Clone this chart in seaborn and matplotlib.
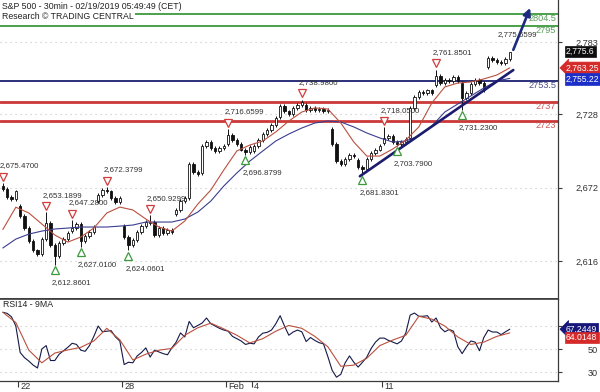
import numpy as np
import matplotlib
matplotlib.use("Agg")
import matplotlib.pyplot as plt
import matplotlib.transforms as mtransforms
import seaborn as sns

BARS_PER_DAY = 6

# trading sessions on the chart (Jan 18 only partly visible)
sessions = ["Jan 18", "Jan 22", "Jan 23", "Jan 24", "Jan 25", "Jan 28", "Jan 29",
            "Jan 30", "Jan 31", "Feb 1", "Feb 4", "Feb 5", "Feb 6", "Feb 7",
            "Feb 8", "Feb 11", "Feb 12", "Feb 13", "Feb 14", "Feb 15"]
session_open = [2673, 2658, 2633, 2639, 2662, 2643, 2645, 2652, 2683, 2705,
                2700, 2726, 2735, 2717, 2693, 2706, 2710, 2750, 2752, 2764]
session_close = [
    [2671, 2665, 2663, 2669],
    [2650, 2641, 2631, 2624, 2621, 2633],
    [2645, 2628, 2620, 2630, 2633, 2637],
    [2641, 2644, 2631, 2635, 2638, 2642],
    [2666, 2670, 2669, 2664, 2661, 2664],
    [2634, 2628, 2632, 2638, 2643, 2646],
    [2646, 2636, 2641, 2637, 2640, 2638],
    [2655, 2662, 2664, 2690, 2684, 2682],
    [2704, 2707, 2702, 2700, 2702, 2704],
    [2712, 2708, 2705, 2701, 2699, 2703],
    [2704, 2708, 2713, 2716, 2720, 2725],
    [2734, 2730, 2728, 2733, 2735, 2737],
    [2731, 2733, 2731, 2732, 2730, 2731],
    [2705, 2692, 2690, 2694, 2697, 2696],
    [2688, 2686, 2694, 2698, 2701, 2704],
    [2710, 2711, 2707, 2705, 2707, 2709],
    [2733, 2741, 2745, 2744, 2746, 2744],
    [2757, 2752, 2754, 2753, 2756, 2753],
    [2740, 2744, 2751, 2754, 2752, 2746],
    [2771, 2769, 2768, 2767, 2770, 2775.6],
]
WICK = 1.5

# swing highs / lows marked on the chart (bar index, value)
swing_bar = [0, 10, 12, 16, 18, 24, 29, 34, 52, 56, 69, 83, 88, 91, 100, 106, 117]
swing_value = [2675.47, 2653.1899, 2612.8601, 2647.28, 2627.01, 2672.3799, 2624.0601,
               2650.9299, 2716.6599, 2696.8799, 2738.98, 2681.8301, 2718.05, 2703.79,
               2761.8501, 2731.23, 2775.6599]
swing_kind = ["high", "high", "low", "high", "low", "high", "low", "high", "high", "low",
              "high", "low", "high", "low", "high", "low", "high"]
swing_marked = [True] * 16 + [False]

# moving averages, read every 3 bars
ma_fast = [2640, 2657, 2652.6, 2644.2, 2635.8, 2630.4, 2634.3, 2641.1, 2652.6, 2657.1,
           2654.9, 2648.0, 2641.9, 2638.8, 2646.5, 2659.4, 2670.1, 2685.4, 2699.9, 2704.4,
           2707.5, 2714.4, 2722.7, 2729.6, 2732.7, 2731.9, 2721.2, 2706.7, 2696.0, 2696.0,
           2701.4, 2708.2, 2718.2, 2736.5, 2748.7, 2751.7, 2752.5, 2754.8, 2757.8, 2763.25]
ma_slow = [2625.9, 2632.7, 2636.5, 2638.8, 2640.4, 2641.1, 2641.9, 2641.9, 2641.9, 2642.6,
           2643.4, 2645.7, 2645.7, 2645.7, 2648.0, 2653.3, 2661.7, 2673.2, 2683.1, 2692.2,
           2699.9, 2707.5, 2712.8, 2717.4, 2721.2, 2722.7, 2722.0, 2718.2, 2713.6, 2709.8,
           2706.7, 2707.5, 2711.3, 2718.9, 2729.6, 2735.7, 2741.8, 2747.9, 2753.3, 2755.22]

# RSI14 per bar and its 9MA every 3 bars
rsi = [82, 81, 78, 70, 47, 42.5, 39.5, 36, 33.5, 50,
       53, 40, 40, 45.5, 48.5, 51.5, 55, 54, 49, 48,
       53, 61, 70, 65, 65.5, 66, 60.5, 57, 36.5, 38.5,
       38, 44, 47, 51, 43, 49, 47.5, 46, 45, 51,
       56, 64, 60.5, 74, 68.5, 70.5, 72.6, 77, 72, 70,
       68, 66.5, 65.5, 61, 59, 57, 54, 55, 54.5, 60.5,
       63.8, 64.5, 66.5, 72, 79, 70, 62, 64.8, 66.5, 65,
       56.5, 60, 57.5, 55.5, 54.5, 43.5, 31.5, 25.5, 28, 38,
       44, 38.5, 34.3, 38.5, 43, 50.5, 56, 59.5, 59.5, 57.5,
       56, 54.5, 57, 64, 79.5, 81.3, 78.5, 78.5, 79, 73.5,
       77, 68.5, 65, 67, 65.5, 52, 46, 52, 57, 56,
       48.5, 60, 66.5, 64.8, 64.8, 62.5, 65, 67.2449]
rsi_ma = [82, 73, 49, 38, 46.5, 49.2, 51.5, 57, 68, 58,
          40.5, 45.5, 49, 50.5, 62, 68.5, 72.5, 67.5, 62, 55.3,
          59, 65.5, 70.5, 68, 61, 52, 35, 36, 42, 53,
          57.8, 62, 78.5, 76, 70, 60.5, 54, 56, 61, 64.0148]

# analyst levels
levels = [2804.5, 2795, 2753.5, 2737, 2723]
level_text = ["2804.5", "2795", "2753.5", "2737", "2723"]
level_kind = ["target", "target", "pivot", "support", "support"]

# trend line from the Feb 8 low and projection arrow (day index, price)
trend_start = (13.15, 2680.6)
trend_end = (19.05, 2761.6)
arrow_start = (19.05, 2777)
arrow_end = (19.7, 2809)

price_ticks = [2616, 2672, 2728, 2783]
price_tick_labels = ["2,616", "2,672", "2,728", "2,783"]
rsi_ticks = [30, 50, 70]
rsi_tick_labels = ["30", "50", ""]  # 70 sits behind the RSI value box
date_ticks = [0, 4, 8, 9, 14]
date_labels = ["22", "28", "Feb", "4", "11"]

title_lines = ["S&P 500 - 30min - 02/19/2019 05:49:49 (CET)", "Research \u00a9 TRADING CENTRAL"]

# ---------------------------------------------------------------------
sns.set_theme(style="white")
plt.rcParams["font.family"] = ["Liberation Sans", "DejaVu Sans"]

opens, closes = [], []
for o, cl in zip(session_open, session_close):
    opens += [o] + cl[:-1]
    closes += cl
opens = np.array(opens, dtype=float)
closes = np.array(closes, dtype=float)
highs = np.maximum(opens, closes) + WICK
lows = np.minimum(opens, closes) - WICK
for b, v, k in zip(swing_bar, swing_value, swing_kind):
    if k == "high":
        highs[b] = v
    else:
        lows[b] = v

bar_x = (np.arange(len(closes)) - len(session_close[0]) + 0.5) / BARS_PER_DAY
ma_x = bar_x[::3]

fig = plt.figure(figsize=(6, 3.92), dpi=100, facecolor="white")
ax = fig.add_axes([0, 0.2372, 0.93, 0.7628])
ax_rsi = fig.add_axes([0, 0.0281, 0.93, 0.2091])
xlim = (-0.692, 20.77)


def shifted(axis, dx_pt, dy_pt):
    return axis.transData + mtransforms.ScaledTranslation(dx_pt / 72, dy_pt / 72, fig.dpi_scale_trans)


# grid
for t in price_ticks:
    ax.axhline(t, color="#c4c4c4", ls=(0, (1, 3.5)), lw=0.8, zorder=1)
for t in rsi_ticks:
    ax_rsi.axhline(t, color="#c4c4c4", ls=(0, (1, 3.5)), lw=0.8, zorder=1)

# levels
level_colors = {"target": "#3d9a3d", "pivot": "#2c2f7c", "support": "#cc3838"}
level_label_colors = {"target": "#5a9e5a", "pivot": "#4d4f86", "support": "#c95555"}
level_widths = {"target": 1.3, "pivot": 1.4, "support": 2.0}
for lv, txt, kind in zip(levels, level_text, level_kind):
    ax.axhline(lv, color=level_colors[kind], lw=level_widths[kind], zorder=2)
    ax.text(0.997, lv, txt, transform=ax.get_yaxis_transform(), ha="right", va="top",
            fontsize=6.6, color=level_label_colors[kind], zorder=3)

# candles
up = closes >= opens
body_bottom = np.minimum(opens, closes)
body_height = np.maximum(np.abs(closes - opens), 0.4)
ax.vlines(bar_x, lows, highs, color="#111111", lw=0.7, zorder=4)
ax.bar(bar_x[up], body_height[up], bottom=body_bottom[up], width=0.1,
       color="white", edgecolor="#111111", linewidth=0.6, zorder=5)
ax.bar(bar_x[~up], body_height[~up], bottom=body_bottom[~up], width=0.1,
       color="#111111", edgecolor="#111111", linewidth=0.6, zorder=5)

# moving averages
sns.lineplot(x=ma_x, y=ma_slow, ax=ax, color="#3b3d8f", linewidth=0.8, zorder=6)
sns.lineplot(x=ma_x, y=ma_fast, ax=ax, color="#b9503f", linewidth=0.8, zorder=6)

# trend line and projection
ax.plot([trend_start[0], trend_end[0]], [trend_start[1], trend_end[1]],
        color="#1c1c6e", lw=1.9, zorder=7, solid_capstyle="round")
ax.annotate("", xy=arrow_end, xytext=arrow_start,
            arrowprops=dict(arrowstyle="-|>", color="#1c2a80", lw=1.9, mutation_scale=11,
                            shrinkA=0, shrinkB=0), zorder=8)

# swing markers and labels (the last label is pulled left of the 2795 tag)
for b, v, k, m in zip(swing_bar, swing_value, swing_kind, swing_marked):
    x = bar_x[b]
    dx = -2.2 if m else -9.0
    if k == "high":
        if m:
            ax.plot([x], [v], ls="none", marker="v", ms=5.5, mfc="white", mec="#d23c3c",
                    mew=0.9, transform=shifted(ax, 0, 4.6), zorder=9)
        ax.annotate(f"{v:,.4f}", xy=(x, v), xytext=(dx, 12.3), textcoords="offset points",
                    ha="left", va="center", fontsize=5.7, color="#333333", zorder=9)
    else:
        ax.plot([x], [v], ls="none", marker="^", ms=5.5, mfc="white", mec="#3c9a3c",
                mew=0.9, transform=shifted(ax, 0, -3.8), zorder=9)
        ax.annotate(f"{v:,.4f}", xy=(x, v), xytext=(dx, -12.8), textcoords="offset points",
                    ha="left", va="center", fontsize=5.7, color="#333333", zorder=9)

# RSI panel
sns.lineplot(x=bar_x, y=rsi, ax=ax_rsi, color="#141a48", linewidth=0.8, zorder=4)
sns.lineplot(x=ma_x, y=rsi_ma, ax=ax_rsi, color="#b9503f", linewidth=0.8, zorder=5)
ax_rsi.text(0.005, 0.93, "RSI14 - 9MA", transform=ax_rsi.transAxes, ha="left", va="center",
            fontsize=6.3, color="#222222")

# titles
ax.text(0.003, 1 - 6 / 299, title_lines[0], transform=ax.transAxes, ha="left", va="center",
        fontsize=6.3, color="#222222", zorder=10)
ax.text(0.003, 1 - 16 / 299, title_lines[1], transform=ax.transAxes, ha="left", va="center",
        fontsize=6.3, color="#222222", zorder=10,
        bbox=dict(boxstyle="square,pad=0.2", fc="white", ec="none"))

# axes styling
for a, ylim in ((ax, (2587.0, 2815.0)), (ax_rsi, (22.2, 93.5))):
    a.set_xlim(*xlim)
    a.set_ylim(*ylim)
    a.set_facecolor("white")
    a.set_xlabel("")
    a.set_ylabel("")
    a.spines["left"].set_visible(False)
    for s in ("right", "bottom", "top"):
        a.spines[s].set_color("#3a3a3a")
        a.spines[s].set_linewidth(0.9)
    a.yaxis.tick_right()
ax.spines["top"].set_visible(False)
ax.spines["bottom"].set_linewidth(1.2)
ax_rsi.spines["top"].set_linewidth(1.2)

ax.set_xticks([])
ax.set_yticks(price_ticks)
ax.set_yticklabels(price_tick_labels)
ax_rsi.set_yticks(rsi_ticks)
ax_rsi.set_yticklabels(rsi_tick_labels)
for a in (ax, ax_rsi):
    a.tick_params(axis="y", right=True, left=False, length=3, width=0.8, color="#3a3a3a",
                  pad=25.8, labelsize=6.6, labelcolor="#333333")
    for lab in a.get_yticklabels():
        lab.set_ha("right")

ax_rsi.set_xticks(date_ticks)
ax_rsi.set_xticklabels(date_labels)
ax_rsi.tick_params(axis="x", bottom=True, direction="out", length=4, width=0.8, color="#3a3a3a",
                   pad=-3.6, labelsize=6.6, labelcolor="#333333")
x_shift = mtransforms.ScaledTranslation(1.5 / 72, 0, fig.dpi_scale_trans)
for lab in ax_rsi.get_xticklabels():
    lab.set_ha("left")
    lab.set_transform(lab.get_transform() + x_shift)


# last value boxes
def value_box(axis, value, color, arrow, dy=0.0, digits=2):
    txt = f"{value:,.{digits}f}"
    style = "larrow,pad=0.15" if arrow else "square,pad=0.15"
    axis.annotate(txt, xy=(1, value), xycoords=axis.get_yaxis_transform(),
                  xytext=(5.8, dy), textcoords="offset points", ha="left", va="center",
                  fontsize=6.2, color="white", annotation_clip=False, zorder=12,
                  bbox=dict(boxstyle=style, fc=color, ec=color, lw=0.5))


value_box(ax, closes[-1], "#0d0d0d", False, digits=1)
value_box(ax, ma_fast[-1], "#d42a2a", True)
value_box(ax, ma_slow[-1], "#1b2fc8", False, dy=-0.5)
value_box(ax_rsi, rsi[-1], "#17177a", True, digits=4)
value_box(ax_rsi, rsi_ma[-1], "#d42a2a", False, dy=-3.2, digits=4)

fig.savefig("out.png", dpi=100, facecolor="white")
